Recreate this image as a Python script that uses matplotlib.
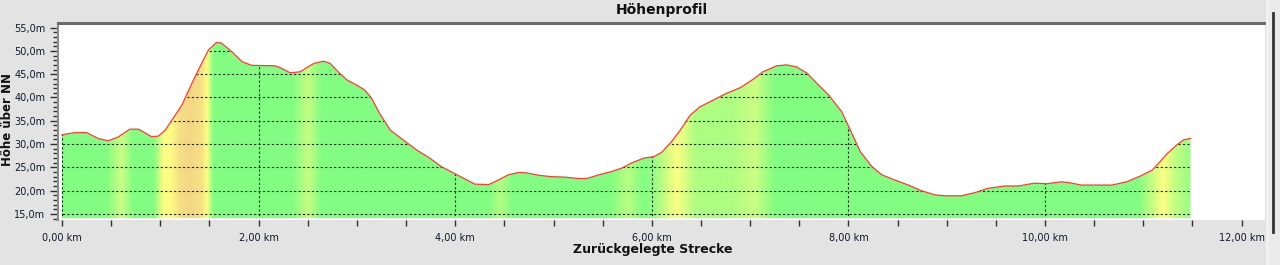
import numpy as np
import matplotlib
matplotlib.use("Agg")
import matplotlib.pyplot as plt
from matplotlib.colors import LinearSegmentedColormap
from matplotlib.patches import Polygon, Rectangle
from matplotlib.lines import Line2D
from matplotlib.ticker import MultipleLocator, FuncFormatter

# ---------------- data ----------------
dist_km = [0.00, 0.13, 0.25, 0.37, 0.47, 0.57, 0.69, 0.78, 0.91, 0.98, 1.05, 1.12, 1.22, 1.32,
           1.42, 1.49, 1.57, 1.62, 1.73, 1.83, 1.93, 2.17, 2.23, 2.32, 2.42, 2.56, 2.66, 2.73,
           2.81, 2.90, 3.01, 3.08, 3.15, 3.23, 3.34, 3.47, 3.61, 3.74, 3.86, 4.00, 4.10, 4.20,
           4.34, 4.44, 4.54, 4.64, 4.73, 4.85, 4.98, 5.12, 5.25, 5.34, 5.46, 5.59, 5.69, 5.80,
           5.92, 6.02, 6.10, 6.20, 6.29, 6.39, 6.49, 6.63, 6.76, 6.90, 7.03, 7.13, 7.27, 7.37,
           7.47, 7.58, 7.68, 7.80, 7.93, 8.02, 8.12, 8.24, 8.34, 8.47, 8.61, 8.74, 8.88, 8.98,
           9.15, 9.29, 9.42, 9.59, 9.73, 9.89, 10.02, 10.17, 10.25, 10.37, 10.53, 10.68, 10.83,
           10.97, 11.09, 11.17, 11.24, 11.34, 11.41, 11.48]
elev_m = [32.0, 32.45, 32.45, 31.2, 30.7, 31.5, 33.2, 33.2, 31.6, 31.7, 33.0, 35.2, 38.4, 43.0,
          47.3, 50.2, 51.8, 51.7, 49.8, 47.7, 46.9, 46.8, 46.3, 45.3, 45.5, 47.3, 47.8, 47.3,
          45.5, 43.75, 42.5, 41.6, 39.8, 36.6, 33.0, 30.9, 28.7, 27.0, 25.15, 23.6, 22.5, 21.4,
          21.3, 22.3, 23.4, 23.9, 23.8, 23.3, 23.0, 22.9, 22.6, 22.6, 23.4, 24.1, 24.8, 26.0,
          27.0, 27.3, 28.2, 30.5, 33.0, 36.2, 38.0, 39.5, 40.9, 42.1, 43.9, 45.5, 46.8, 47.0,
          46.6, 45.2, 43.0, 40.5, 37.0, 33.0, 28.4, 25.15, 23.4, 22.3, 21.2, 20.0, 19.1, 18.9,
          18.9, 19.6, 20.5, 21.0, 21.0, 21.6, 21.5, 21.9, 21.7, 21.2, 21.2, 21.2, 21.9,
          23.15, 24.4, 26.2, 27.9, 29.8, 30.9, 31.2]

# gradient colouring (0 = green, 1 = yellow, 2 = orange)
band_km = [0.0, 0.45, 0.60, 0.72, 0.93, 1.03, 1.10, 1.20, 1.30, 1.42, 1.47, 1.54,
           2.34, 2.50, 2.64, 4.34, 4.46, 4.58, 5.58, 5.75, 5.92, 6.03, 6.25, 6.45,
           6.80, 7.05, 7.25, 10.95, 11.20, 11.33, 11.48]
band_level = [0, 0, 0.6, 0, 0, 1.0, 1.0, 1.6, 1.75, 1.55, 1.0, 0,
              0, 0.55, 0, 0, 0.4, 0, 0, 0.45, 0, 0.2, 1.0, 0.35,
              0.35, 0.6, 0, 0, 1.0, 0.5, 0.2]

x_ticks = [0, 2, 4, 6, 8, 10, 12]
y_ticks = [15, 20, 25, 30, 35, 40, 45, 50, 55]

title = "Höhenprofil"
x_label = "Zurückgelegte Strecke"
y_label = "Höhe über NN"

# ---------------- figure ----------------
W, H = 1280, 265
fig = plt.figure(figsize=(W / 100, H / 100), dpi=100, facecolor="#e3e3e3")

# right-side window decorations
fig.add_artist(Rectangle((1266 / W, 0), 14 / W, 1, transform=fig.transFigure,
                         facecolor="#ebebeb", edgecolor="none"))
fig.add_artist(Line2D([1266.5 / W] * 2, [0, 1], transform=fig.transFigure,
                      color="#f7f7f7", lw=1))
fig.add_artist(Line2D([1273 / W] * 2, [1 - 13 / H, 1 - 232 / H], transform=fig.transFigure,
                      color="#333333", lw=2))

ax = fig.add_axes([58 / W, 45 / H, (1265 - 58) / W, (220 - 23) / H])
ax.set_facecolor("white")
ymin, ymax = 13.7, 55.99
ax.set_xlim(-0.0407, 12.238)
ax.set_ylim(ymin, ymax)

fill_bottom = 14.1
verts = [(dist_km[0], fill_bottom)] + list(zip(dist_km, elev_m)) + [(dist_km[-1], fill_bottom)]
poly = Polygon(verts, closed=True, facecolor="none", edgecolor="none")
ax.add_patch(poly)

cmap = LinearSegmentedColormap.from_list(
    "slope", [(0.0, "#82fd82"), (0.5, "#fdfd82"), (1.0, "#f1ca86")])
xs = np.linspace(dist_km[0], dist_km[-1], 1500)
lv = np.interp(xs, band_km, band_level)
im = ax.imshow(lv[None, :], cmap=cmap, vmin=0, vmax=2,
               extent=[dist_km[0], dist_km[-1], ymin, ymax],
               aspect="auto", interpolation="bilinear", zorder=1)
im.set_clip_path(poly)

# grid lines, visible only inside the filled profile
for xv in x_ticks:
    ln = ax.axvline(xv, color="#1a2a1a", lw=0.8, linestyle=(0, (2, 2)), zorder=2)
    ln.set_clip_path(poly)
for yv in y_ticks:
    ln = ax.axhline(yv, color="#1a2a1a", lw=0.8, linestyle=(0, (2, 2)), zorder=2)
    ln.set_clip_path(poly)

ax.plot(dist_km, elev_m, color="#ff3a3a", lw=0.9, zorder=3)

# axes styling
for s in ("right", "bottom"):
    ax.spines[s].set_visible(False)
ax.spines["top"].set_color("#6a6a6a")
ax.spines["top"].set_linewidth(2.2)
ax.spines["left"].set_color("#8a8a8a")
ax.spines["left"].set_linewidth(1.5)

ax.set_xticks(x_ticks)
ax.xaxis.set_minor_locator(MultipleLocator(0.5))
ax.set_yticks(y_ticks)
ax.yaxis.set_minor_locator(MultipleLocator(1))
ax.xaxis.set_major_formatter(FuncFormatter(lambda v, p: f"{v:.2f} km".replace(".", ",")))
ax.yaxis.set_major_formatter(FuncFormatter(lambda v, p: f"{v:.1f}m".replace(".", ",")))

ax.tick_params(axis="x", which="both", direction="out", length=4.5, width=1,
               color="#303030", labelsize=7, pad=5, labelcolor="#10182a")
ax.tick_params(axis="y", which="major", direction="out", length=6, width=1,
               color="#303030", labelsize=7, pad=3, labelcolor="#10182a")
ax.tick_params(axis="y", which="minor", direction="out", length=3.5, width=1,
               color="#303030")

fig.text(662 / W, 1 - 10 / H, title, ha="center", va="center",
         fontsize=10, fontweight="bold", color="#111111")
fig.text(653 / W, 1 - 250 / H, x_label, ha="center", va="center",
         fontsize=9, fontweight="bold", color="#111111")
fig.text(8 / W, 1 - 120 / H, y_label, ha="center", va="center", rotation=90,
         fontsize=8.5, fontweight="bold", color="#111111")

fig.savefig("out.png", dpi=100, facecolor=fig.get_facecolor())
